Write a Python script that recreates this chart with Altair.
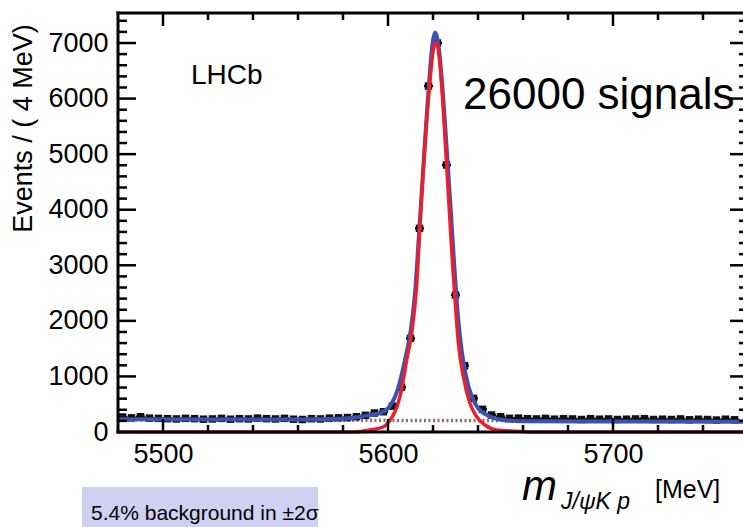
import altair as alt
import pandas as pd

# ---------------- data ----------------
bin_centers = list(range(5482, 5758, 4))  # 4 MeV bins, 5480-5756
counts = [270, 255, 275, 250, 245, 240, 235, 245, 240, 230,
          235, 245, 230, 240, 235, 250, 240, 235, 245, 230,
          225, 240, 235, 250, 255, 260, 275, 300, 342, 365,
          465, 804, 1686, 3665, 6226, 7000, 4805, 2465, 1193, 606,
          408, 306, 276, 246, 250, 240, 235, 245, 230, 240,
          235, 225, 240, 230, 235, 225, 230, 235, 240, 225,
          230, 225, 235, 220, 230, 225, 215, 230, 220]

blue_mass = [5480, 5520, 5560, 5580, 5588, 5592, 5596, 5600, 5603, 5605,
             5607.5, 5610, 5612, 5614, 5616, 5618, 5620, 5621, 5622.3, 5624,
             5626, 5627.6, 5629, 5630.5, 5632.3, 5634.7, 5637.2, 5640, 5644, 5651,
             5659, 5700, 5760]
blue_fit = [228, 225, 225, 240, 275, 306, 336, 426, 620, 860,
            1290, 1800, 2500, 3700, 4950, 6150, 7050, 7190, 7000, 6300,
            5150, 4175, 3275, 2375, 1600, 1000, 640, 430, 306, 216,
            195, 190, 185]

red_mass = [5480, 5585, 5592, 5598, 5601, 5604, 5606, 5608.3, 5610.5, 5612.7,
            5614.2, 5615.7, 5617.2, 5618.7, 5620.1, 5621.2, 5622.4, 5623.9, 5625.3, 5626.8,
            5628.3, 5629.8, 5631.3, 5633.5, 5636.4, 5639.4, 5643.1, 5648.3, 5657, 5665,
            5760]
red_fit = [0, 0, 36, 95, 216, 455, 756, 1296, 1776, 2616,
           3700, 4733, 5633, 6334, 6874, 7005, 6874, 6214, 5315, 4300,
           3275, 2375, 1596, 995, 516, 276, 126, 36, 15, 0,
           0]

bkg_mass = [5480, 5760]
bkg_fit = [220, 195]

x_major = [5500, 5600, 5700]
x_minor = [5520, 5540, 5560, 5580, 5620, 5640, 5660, 5680, 5720, 5740]
y_labels = [0, 1000, 2000, 3000, 4000, 5000, 6000, 7000]
y_major = [1000, 2000, 3000, 4000, 5000, 6000, 7000]
y_minor = [v for v in range(200, 7600, 200) if v % 1000 != 0]

# ---------------- layout ----------------
W, H = 625, 419
RW = 630  # x range extends past the visible edge (cropped like the reference)
FONT = "Liberation Sans"

xs = alt.Scale(domain=[5480, 5760], range=[0, RW], nice=False, zero=False)
ys = alt.Scale(domain=[0, 7540], nice=False, zero=False)

xaxis = alt.Axis(values=x_major, format="d", labelFontSize=27, labelFont=FONT,
                 labelColor="black", ticks=False, domain=False, grid=False,
                 labelPadding=9, title=None, labelFlush=False)
yaxis = alt.Axis(values=y_labels, format="d", labelFontSize=27, labelFont=FONT,
                 labelColor="black", ticks=False, domain=False, grid=False,
                 labelPadding=10, title="Events / ( 4 MeV)", titleFontSize=27,
                 titleFont=FONT, titleFontWeight="normal", titleColor="black",
                 titleX=-95, titleY=115, titleAngle=270, titleAlign="center",
                 titleBaseline="middle")

pts = pd.DataFrame({"m": bin_centers, "n": counts})
base_pts = alt.Chart(pts).transform_calculate(
    lo="datum.n - sqrt(datum.n)", hi="datum.n + sqrt(datum.n)",
    mlo="datum.m - 2", mhi="datum.m + 2")

bkg = alt.Chart(pd.DataFrame({"m": bkg_mass, "v": bkg_fit})).mark_line(
    color="#8a7262", strokeWidth=3.5, strokeDash=[2, 2.5]).encode(
    x=alt.X("m:Q", scale=xs, axis=xaxis), y=alt.Y("v:Q", scale=ys, axis=yaxis))

hbar = base_pts.mark_rule(color="#111111", strokeWidth=2.5).encode(
    x=alt.X("mlo:Q", scale=xs), x2="mhi:Q", y=alt.Y("n:Q", scale=ys))
vbar = base_pts.mark_rule(color="#111111", strokeWidth=2.5).encode(
    x=alt.X("m:Q", scale=xs), y=alt.Y("lo:Q", scale=ys), y2="hi:Q")
sq = base_pts.mark_square(color="#111111", size=56, opacity=1).encode(
    x=alt.X("m:Q", scale=xs), y=alt.Y("n:Q", scale=ys))

blue = alt.Chart(pd.DataFrame({"m": blue_mass, "v": blue_fit})).mark_line(
    color="#3b52b0", strokeWidth=4, interpolate="monotone").encode(
    x=alt.X("m:Q", scale=xs), y=alt.Y("v:Q", scale=ys))
red = alt.Chart(pd.DataFrame({"m": red_mass, "v": red_fit})).mark_line(
    color="#ea1f2b", strokeWidth=3.5, interpolate="monotone").encode(
    x=alt.X("m:Q", scale=xs), y=alt.Y("v:Q", scale=ys))


def xticks(vals, length):
    c = alt.Chart(pd.DataFrame({"v": vals})).mark_rule(color="black", strokeWidth=2.5)
    b = c.encode(x=alt.X("v:Q", scale=xs), y=alt.value(H), y2=alt.value(H - length))
    t = c.encode(x=alt.X("v:Q", scale=xs), y=alt.value(0), y2=alt.value(length))
    return [b, t]


def yticks(vals, length):
    c = alt.Chart(pd.DataFrame({"v": vals})).mark_rule(color="black", strokeWidth=2.5)
    l = c.encode(y=alt.Y("v:Q", scale=ys), x=alt.value(0), x2=alt.value(length))
    r = c.encode(y=alt.Y("v:Q", scale=ys), x=alt.value(RW), x2=alt.value(RW - length))
    return [l, r]


frame_src = alt.Chart(pd.DataFrame({"a": [0]}))
frame = [
    frame_src.mark_rule(color="black", strokeWidth=3, strokeCap="square").encode(
        x=alt.value(0), y=alt.value(0), y2=alt.value(H)),
    frame_src.mark_rule(color="black", strokeWidth=3, strokeCap="square").encode(
        x=alt.value(0), x2=alt.value(RW), y=alt.value(H)),
    frame_src.mark_rule(color="black", strokeWidth=3, strokeCap="square").encode(
        x=alt.value(0), x2=alt.value(RW), y=alt.value(0)),
]


def label(txt, x, y, size, style="normal", align="left", color="black", font=FONT):
    return alt.Chart(pd.DataFrame({"t": [txt]})).mark_text(
        align=align, baseline="alphabetic", font=font, fontSize=size,
        fontStyle=style, color=color).encode(
        x=alt.value(x), y=alt.value(y), text="t:N")


box = alt.Chart(pd.DataFrame({"a": [0]})).mark_rect(color="#cfd0f2").encode(
    x=alt.value(-36), x2=alt.value(200), y=alt.value(474), y2=alt.value(520))

texts = [
    box,
    label("5.4% background in \u00b12\u03c3", -27, 507, 21),
    label("LHCb", 73, 71, 28),
    label("26000 signals", 345, 96, 44),
    label("m", 404, 487, 42, style="italic"),
    label("J/\u03c8K p", 443, 496, 23, style="italic"),
    label("[MeV]", 537, 485, 25),
]

layers = [bkg, hbar, vbar, sq, blue, red]
layers += xticks(x_major, 13) + xticks(x_minor, 7)
layers += yticks(y_major, 18) + yticks(y_minor, 9)
layers += frame + texts

chart = alt.layer(*layers).properties(
    width=W, height=H,
    padding={"left": 118, "top": 13, "right": 0, "bottom": 95},
    autosize=alt.AutoSizeParams(type="none"),
).configure_view(stroke=None).configure(background="white")

chart.save("out.html", embed_options={"renderer": "svg", "actions": False})
